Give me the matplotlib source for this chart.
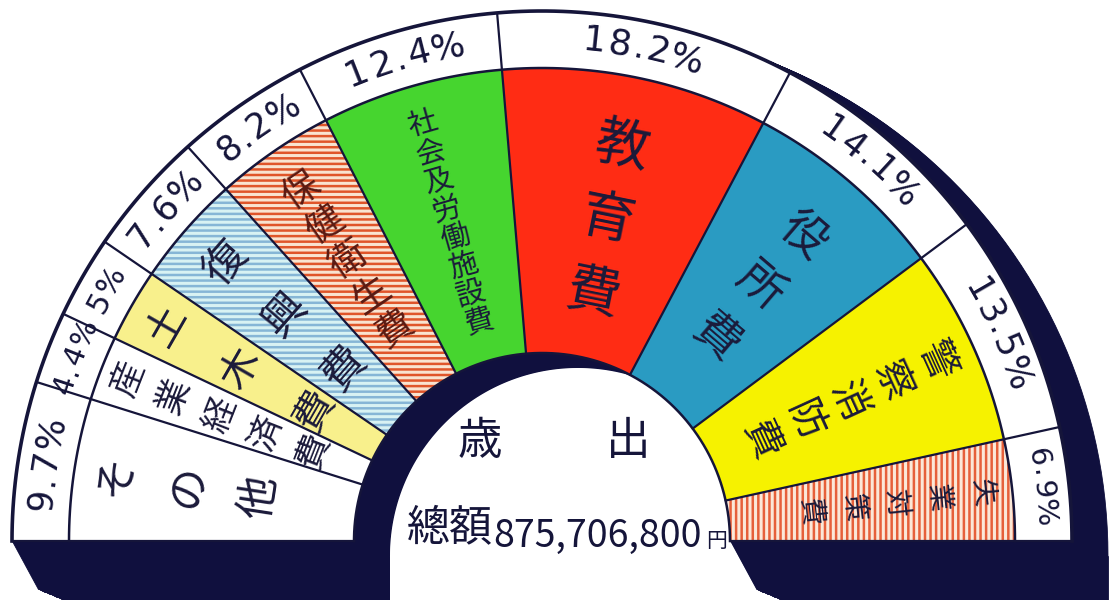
import numpy as np
import matplotlib
matplotlib.use('Agg')
import matplotlib.pyplot as plt
from matplotlib.patches import Polygon

plt.rcParams['font.family'] = ['Noto Sans CJK JP', 'DejaVu Sans']
plt.rcParams['hatch.linewidth'] = 1.8

# ---------------- data ----------------
categories = ['その他', '産業経済費', '土木費', '復興費', '保健衛生費',
              '社会及労働施設費', '教育費', '役所費', '警察消防費', '失業対策費']
shares = [9.7, 4.4, 5.0, 7.6, 8.2, 12.4, 18.2, 14.1, 13.5, 6.9]
pct_labels = ['9.7%', '4.4%', '5%', '7.6%', '8.2%', '12.4%', '18.2%', '14.1%', '13.5%', '6.9%']
title_chars = ['歳', '出']
total_label = '總額'
total_amount = '875,706,800'
total_unit = '円'

# ---------------- style ----------------
face_colors = ['#ffffff', '#ffffff', '#f8f08c', '#d8f2f3', '#f9e3d0',
               '#46d52f', '#ff2c14', '#2a9bc2', '#f6f200', '#fbe8d8']
hatches = [None, None, None, '---', '---', None, None, None, None, '|||']
hatch_colors = [None, None, None, '#86b6d6', '#e0552a', None, None, None, None, '#e6603a']
text_colors = ['#1b1a3a'] * 4 + ['#5a1a12'] + ['#1b1a3a'] * 5
# per-label: first-char radius, char spacing, font size
label_r0 = [430, 445, 432, 420, 425, 433, 402, 402, 434, 442]
label_sp = [72, 50, 85, 79, 42, 29.5, 75, 67, 48.5, 43]
label_fs = [31, 25, 29, 31, 27, 21, 39, 33, 28, 20]
pct_fs = [25, 21, 22, 25, 25, 26, 26, 25, 25, 21]
INK = '#15153a'
DARK = '#10103e'

# geometry (pixel space)
CX, CY = 542, 541
R_OUT, R_RING, R_IN = 530, 473, 188
DX, DY = 36, 15
LEG_H, SLANT = 48, 26

fig = plt.figure(figsize=(11.1, 6.0), dpi=100)
ax = fig.add_axes([0, 0, 1, 1])
ax.set_xlim(0, 1110)
ax.set_ylim(600, 0)
ax.axis('off')


def pt(theta, r, cx=CX, cy=CY):
    t = np.radians(theta)
    return cx + r * np.cos(t), cy - r * np.sin(t)


def sector(t1, t2, r_in, r_out, cx=CX, cy=CY, n=120):
    th = np.linspace(t1, t2, n)
    outer = [pt(a, r_out, cx, cy) for a in th]
    inner = [pt(a, r_in, cx, cy) for a in th[::-1]]
    return np.array(outer + inner)


# ---------------- shadow / extrusion ----------------
for t in np.linspace(0, 1, 40):
    ox, oy = CX + t * DX, CY + t * DY
    ax.add_patch(Polygon(sector(0, 180, R_IN, R_OUT, ox, oy), closed=True,
                         fc=DARK, ec=DARK, lw=0.6, zorder=1))
    left_leg = [(ox - R_OUT, oy), (ox - R_IN, oy), (ox - R_IN, oy + LEG_H),
                (ox - R_OUT + SLANT, oy + LEG_H)]
    right_leg = [(ox + R_IN, oy), (ox + R_OUT, oy), (ox + R_OUT, oy + LEG_H),
                 (ox + R_IN + SLANT, oy + LEG_H)]
    ax.add_patch(Polygon(left_leg, closed=True, fc=DARK, ec=DARK, lw=0.6, zorder=1))
    ax.add_patch(Polygon(right_leg, closed=True, fc=DARK, ec=DARK, lw=0.6, zorder=1))

# visible background through the hole = front hole ∩ back hole
th = np.linspace(0, 180, 200)
front_hole = [pt(a, R_IN) for a in th] + [(CX - R_IN, 640),
                                           (CX + R_IN + SLANT * (640 - CY) / LEG_H, 640)]
back_hole = [pt(a, R_IN, CX + DX, CY + DY) for a in th] + [(CX + DX - R_IN, 640),
                                                           (CX + DX + R_IN, 640)]
fh = Polygon(front_hole, closed=True, fc='none', ec='none', transform=ax.transData)
ax.add_patch(fh)
bh = Polygon(back_hole, closed=True, fc='white', ec='none', zorder=2)
ax.add_patch(bh)
bh.set_clip_path(fh)

# ---------------- front face ----------------
total = sum(shares)
cum = np.concatenate([[0], np.cumsum(shares)]) / total
bounds = 180 - 180 * cum

for i in range(len(shares)):
    a1, a2 = bounds[i], bounds[i + 1]
    ax.add_patch(Polygon(sector(a1, a2, R_RING, R_OUT), closed=True,
                         fc='white', ec='none', zorder=3))
    poly = sector(a1, a2, R_IN, R_RING)
    ax.add_patch(Polygon(poly, closed=True, fc=face_colors[i], ec='none', zorder=3))
    if hatches[i]:
        ax.add_patch(Polygon(poly, closed=True, fill=False, ec=hatch_colors[i],
                             hatch=hatches[i], lw=0, zorder=3.1))

# outlines
for a in bounds:
    x0, y0 = pt(a, R_IN)
    x1, y1 = pt(a, R_OUT)
    ax.plot([x0, x1], [y0, y1], color=INK, lw=1.6, zorder=4, solid_capstyle='round')
for r, lw in [(R_IN, 1.8), (R_RING, 1.8), (R_OUT, 2.6)]:
    xs, ys = zip(*[pt(a, r) for a in th])
    ax.plot(xs, ys, color=INK, lw=lw, zorder=4)

# ---------------- segment labels (vertical, along the radius) ----------------
for i, name in enumerate(categories):
    mid = (bounds[i] + bounds[i + 1]) / 2
    for k, ch in enumerate(name):
        x, y = pt(mid, label_r0[i] - k * label_sp[i])
        ax.text(x, y, ch, rotation=mid - 90, rotation_mode='anchor',
                ha='center', va='center', fontsize=label_fs[i],
                color=text_colors[i], zorder=5)

# ---------------- percentage labels (along the ring) ----------------
R_TXT = (R_RING + R_OUT) / 2 + 1


def adv(ch, fs):
    if ch == '.':
        return 0.5 * fs
    if ch == '%':
        return 1.25 * fs
    return 1.0 * fs


for i, lab in enumerate(pct_labels):
    mid = (bounds[i] + bounds[i + 1]) / 2
    fs = pct_fs[i]
    widths = [adv(c, fs) for c in lab]
    tot = sum(widths)
    start = mid + np.degrees(tot / 2 / R_TXT)
    acc = 0
    for c, w in zip(lab, widths):
        a = start - np.degrees((acc + w / 2) / R_TXT)
        acc += w
        x, y = pt(a, R_TXT)
        ax.text(x, y, c, rotation=a - 90, rotation_mode='anchor',
                ha='center', va='center', fontsize=fs, color=INK,
                family=['DejaVu Sans'], zorder=5)

# ---------------- centre text ----------------
ax.text(480, 441, title_chars[0], ha='center', va='center', fontsize=32, color=INK, zorder=5)
ax.text(628, 441, title_chars[1], ha='center', va='center', fontsize=32, color=INK, zorder=5)
ax.text(450, 528, total_label, ha='center', va='center', fontsize=31, color=INK, zorder=5)
amt = ax.text(493, 547, total_amount, ha='left', va='baseline', fontsize=27,
              color=INK, zorder=5)
ax.text(706, 547, total_unit, ha='left', va='baseline', fontsize=15, color=INK, zorder=5)

fig.savefig('out.png', dpi=100, facecolor='white')
